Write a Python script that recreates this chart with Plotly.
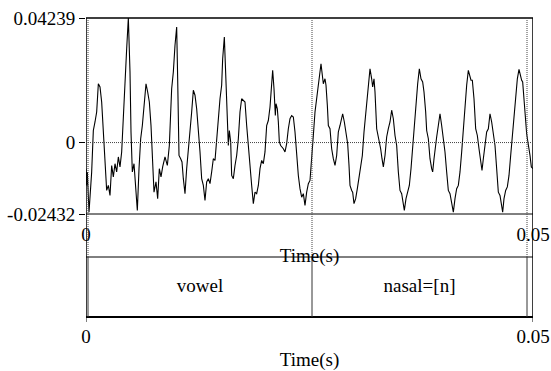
import plotly.graph_objects as go

# ---- data ----
# time in milliseconds, amplitude in units of 1e-3
time_ms = [
    0.00, 0.075, 0.149, 0.224, 0.336, 0.634, 0.820, 1.007, 1.193, 1.380, 1.566, 1.753, 1.939, 2.125, 2.312,
    2.498, 2.685, 2.871, 3.058, 3.244, 3.430, 3.617, 3.803, 3.990, 4.176, 4.363, 4.549, 4.736, 4.922, 5.034,
    5.183, 5.370, 5.556, 5.742, 5.929, 6.115, 6.302, 6.525, 6.712, 6.898, 7.084, 7.271, 7.457, 7.606, 7.830,
    8.017, 8.203, 8.389, 8.576, 8.837, 9.098, 9.322,
    9.582, 9.769, 9.955, 10.142, 10.254, 10.403, 10.589, 10.738, 10.887, 11.074, 11.260, 11.447, 11.633, 11.820,
    12.006, 12.192, 12.379, 12.565, 12.752, 12.938, 13.125, 13.311, 13.497, 13.684, 13.870, 14.057, 14.243,
    14.430, 14.616, 14.803, 14.989, 15.175, 15.287, 15.474, 15.623, 15.809, 15.921, 16.033, 16.182, 16.294,
    16.480, 16.667, 16.853, 17.040, 17.226, 17.412, 17.599, 17.785, 17.972, 18.158, 18.345, 18.531, 18.718,
    18.904, 19.090, 19.277,
    19.463, 19.650, 19.836, 20.022, 20.209, 20.395, 20.582, 20.768, 20.880, 21.029, 21.178, 21.253, 21.402,
    21.514, 21.626, 21.775, 21.924, 22.073, 22.260, 22.446, 22.632, 22.819, 23.005, 23.192, 23.378, 23.565,
    23.751, 23.937, 24.124, 24.310, 24.497, 24.683, 24.870, 25.056, 25.242, 25.429, 25.615, 25.802, 25.988,
    26.174, 26.286, 26.436, 26.547, 26.734, 26.846, 26.995, 27.107, 27.293, 27.480, 27.666, 27.853, 28.039,
    28.225, 28.412, 28.598, 28.710, 28.897, 29.083, 29.270, 29.419,
    29.530, 29.717, 29.829, 29.977, 30.164, 30.350, 30.537, 30.723, 30.910, 31.096, 31.283, 31.469, 31.655,
    31.767, 31.954, 32.066, 32.215, 32.327, 32.513, 32.699, 32.811, 32.960, 33.110, 33.259, 33.445, 33.632,
    33.818, 34.004, 34.191, 34.377, 34.564, 34.750, 34.937, 35.123, 35.310, 35.496, 35.608, 35.794, 35.981,
    36.167, 36.354, 36.540, 36.727, 36.913, 37.100, 37.286, 37.472, 37.659, 37.808, 37.994, 38.106, 38.293,
    38.479, 38.666, 38.777, 38.927, 39.076, 39.224, 39.411,
    39.597, 39.783, 39.970, 40.156, 40.343, 40.529, 40.716, 40.902, 41.088, 41.275, 41.461, 41.648, 41.834,
    42.021, 42.207, 42.394, 42.580, 42.766, 42.953, 43.065, 43.214, 43.400, 43.587, 43.773, 43.960, 44.146,
    44.295, 44.444, 44.631, 44.817, 45.004, 45.190, 45.377, 45.563, 45.749, 45.936, 46.122, 46.309, 46.495,
    46.607, 46.756, 46.943, 47.129, 47.315, 47.502, 47.688, 47.875, 48.061, 48.248, 48.434, 48.620, 48.732,
    48.844, 48.993, 49.143, 49.292, 49.404, 49.516, 49.665, 49.814, 49.963, 50.0,
]
amp_e3 = [
    -8.9, -14.6, -10.0, -15.7, -23.7, -10.0, 4.1, 7.0, 10.4, 20.0, 18.9, 13.8, 4.7, -6.6, -16.3,
    -14.6, -18.0, -7.8, -11.7, -7.2, -10.0, -4.9, -8.3, -3.2, 10.4, 23.4, 31.9, 42.4, 24.0, 3.6,
    -10.0, -7.2, -14.6, -23.1, -8.9, 1.3, 5.8, 13.8, 20.0, 17.2, 13.8, 5.8, -6.6, -16.9, -13.4,
    -19.1, -8.9, -11.7, -8.3, -4.9, -7.8, -1.0,
    18.3, 24.0, 33.1, 39.3, 21.7, -4.4, -5.5, -6.6, -12.3, -17.4, -8.9, -3.2, 2.4, 10.4,
    17.8, 16.1, 11.5, 4.7, -3.2, -12.3, -14.6, -19.7, -13.4, -12.3, -14.0, -10.0, -5.5,
    -6.1, 1.3, 8.1, 14.9, 19.5, 28.5, 35.9, 21.7, 4.7, -1.0, 4.1, 0.2, -11.2,
    -12.3, -7.8, -4.4, 1.3, 10.4, 14.9, 14.4, 13.8, 5.8, -2.1, -7.8, -14.6, -20.8,
    -16.9, -17.4, -14.6,
    -8.9, -6.1, -7.2, -3.2, 5.8, 7.5, 12.1, 19.5, 24.6, 18.3, 9.2, 13.2, 11.5,
    7.0, 0.2, -1.0, -1.5, -2.1, -3.2, -0.4, 4.7, 8.1, 9.2, 8.7, 3.6, -4.4,
    -11.2, -15.7, -18.6, -17.4, -21.4, -16.9, -14.0, -12.9, -6.6, 2.4, 10.4, 14.9, 20.6,
    24.6, 26.8, 22.9, 20.0, 21.7, 19.5, 12.7, 5.8, 4.7, -2.1, -5.5, -7.8, -4.4,
    3.6, 5.8, 8.1, 9.8, 7.0, 2.4, -0.4, -7.8,
    -14.6, -16.3, -16.9, -20.8, -19.1, -15.7, -12.3, -8.9, -4.4, 3.6, 10.4, 16.1, 21.7,
    25.1, 21.7, 18.9, 21.7, 17.2, 4.7, 1.9, 1.3, -2.1, -5.5, -8.3, -4.4, 1.9,
    4.7, 7.0, 11.0, 8.1, 2.4, -1.0, -10.0, -16.3, -17.4, -21.4, -23.1, -19.1, -16.3,
    -14.6, -8.9, -1.0, 7.0, 13.8, 20.0, 25.1, 21.7, 20.6, 17.2, 10.4, 4.1, 1.3,
    -5.5, -8.9, -10.0, -5.5, -1.0, 1.9, 5.8,
    9.8, 5.8, 1.3, -3.2, -10.0, -16.3, -17.4, -20.8, -23.7, -19.1, -15.7, -14.6, -10.0,
    -3.2, 4.7, 11.5, 19.5, 24.6, 22.9, 21.2, 21.2, 14.9, 4.7, 2.4, -2.1, -7.2,
    -9.5, -5.5, -1.0, 3.6, 4.7, 9.8, 7.0, 2.4, -1.0, -8.9, -16.9, -18.0, -21.4,
    -23.7, -19.1, -16.3, -15.1, -11.2, -4.4, 2.4, 10.4, 17.2, 21.7, 24.9, 22.3, 21.2,
    20.6, 14.9, 7.0, 3.0, 0.7, -1.0, -4.4, -8.3, -8.9, -8.9,
]

y_min, y_max = -0.02432, 0.04239
y_tick_vals = [-0.02432, 0, 0.04239]
y_tick_text = ["-0.02432", "0", "0.04239"]
x_tick_vals = [0, 0.05]
x_tick_text = ["0", "0.05"]
x_title = "Time(s)"

# TextGrid tier: interval boundaries (s) and labels
tier_bounds = [0.000224, 0.02528, 0.04933]
tier_labels = ["vowel", "nasal=[n]"]

t_s = [v / 1000 for v in time_ms]
amp = [v / 1000 for v in amp_e3]
label_x = [(tier_bounds[i] + tier_bounds[i + 1]) / 2 for i in range(len(tier_labels))]

# ---- layout geometry ----
W, H = 551, 371
def py(pix):
    return 1 - pix / H

x_dom = [86 / W, 533 / W]
wave_dom = [py(214), py(18)]
tier_dom = [py(317), py(257)]

FONT = dict(family="Liberation Serif, Times New Roman, serif", size=19, color="black")

fig = go.Figure()
fig.add_trace(go.Scatter(x=t_s, y=amp, mode="lines", line=dict(color="black", width=1.1),
                         hoverinfo="skip", showlegend=False, xaxis="x", yaxis="y"))
fig.add_trace(go.Scatter(x=label_x, y=[0.5] * len(label_x), mode="text", text=tier_labels,
                         textfont=FONT, textposition="middle center", showlegend=False,
                         hoverinfo="skip", xaxis="x2", yaxis="y2"))

shapes = []
# outer frame
shapes.append(dict(type="rect", xref="x", yref="paper", x0=0, x1=0.05, y0=tier_dom[0], y1=wave_dom[1],
                   line=dict(color="black", width=1.5), layer="above"))
# waveform bottom line and tier top line
for yy in (wave_dom[0], tier_dom[1]):
    shapes.append(dict(type="line", xref="x", yref="paper", x0=0, x1=0.05, y0=yy, y1=yy,
                       line=dict(color="black", width=1), layer="above"))
# thicker tier bottom
shapes.append(dict(type="line", xref="x", yref="paper", x0=0, x1=0.05, y0=tier_dom[0], y1=tier_dom[0],
                   line=dict(color="black", width=2), layer="above"))
# bottom axis tick marks
for tv in x_tick_vals:
    shapes.append(dict(type="line", xref="x", yref="paper", x0=tv, x1=tv, y0=py(322), y1=tier_dom[0],
                       line=dict(color="black", width=1), layer="above"))
# zero dotted line
shapes.append(dict(type="line", xref="x", yref="y", x0=0, x1=0.05, y0=0, y1=0,
                   line=dict(color="#444", width=1, dash="1px,1px"), layer="above"))
# boundaries
for b in tier_bounds:
    shapes.append(dict(type="line", xref="x", yref="paper", x0=b, x1=b, y0=tier_dom[1], y1=wave_dom[1],
                       line=dict(color="#444", width=1, dash="1px,1px"), layer="above"))
    shapes.append(dict(type="line", xref="x", yref="paper", x0=b, x1=b, y0=tier_dom[0], y1=tier_dom[1],
                       line=dict(color="#333", width=1), layer="above"))

fig.update_layout(
    width=W, height=H,
    margin=dict(l=0, r=0, t=0, b=0),
    paper_bgcolor="white", plot_bgcolor="white",
    font=FONT,
    showlegend=False,
    hovermode=False,
    shapes=shapes,
    xaxis=dict(domain=x_dom, anchor="y", range=[0, 0.05], tickvals=x_tick_vals, ticktext=x_tick_text,
               ticks="", showline=False, showgrid=False, zeroline=False, automargin=False,
               ticklabelstandoff=7, title=dict(text=x_title, standoff=4, font=FONT), tickfont=FONT),
    yaxis=dict(domain=wave_dom, anchor="x", range=[y_min, y_max], tickvals=y_tick_vals, ticktext=y_tick_text,
               ticks="outside", ticklen=6, tickcolor="black", showline=False, showgrid=False,
               zeroline=False, automargin=False, tickfont=FONT),
    xaxis2=dict(domain=x_dom, anchor="y2", range=[0, 0.05], tickvals=x_tick_vals, ticktext=x_tick_text,
                ticks="", showline=False, showgrid=False,
                zeroline=False, automargin=False, ticklabelstandoff=6,
                title=dict(text=x_title, standoff=6, font=FONT), tickfont=FONT),
    yaxis2=dict(domain=tier_dom, anchor="x2", range=[0, 1], visible=False),
)

fig.write_html("out.html", config={"displayModeBar": False, "staticPlot": True},
               post_script="document.body.style.margin='0px';")
